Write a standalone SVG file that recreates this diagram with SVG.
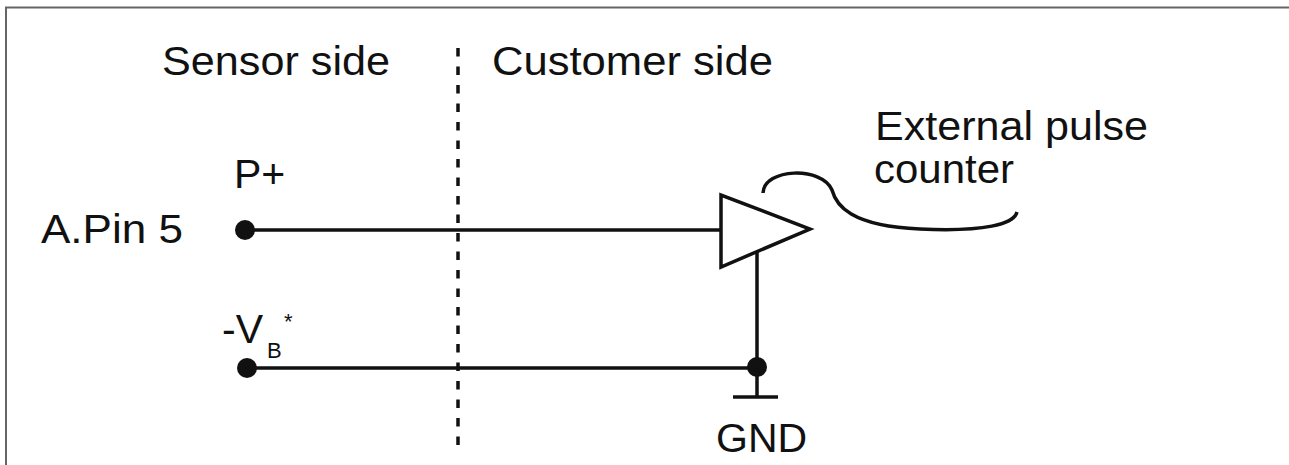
<svg xmlns="http://www.w3.org/2000/svg" width="1289" height="465" viewBox="0 0 1289 465">
<style>
.t{font-family:"Liberation Sans",Arial,sans-serif;font-size:41px;fill:#111}
.w{stroke:#111;stroke-width:3.5;fill:none}
.d{fill:#111}
</style>
<rect x="0" y="0" width="1289" height="465" fill="#fff"/>
<g id="frame">
<path d="M6 465 V7.5 H1289" fill="none" stroke="#666" stroke-width="2"/>
</g>
<g id="divider">
<line x1="458" y1="48" x2="458" y2="448" stroke="#111" stroke-width="3.5" stroke-dasharray="8.5 10"/>
</g>
<g id="labels">
<text class="t" x="162" y="75" textLength="228" lengthAdjust="spacingAndGlyphs">Sensor side</text>
<text class="t" x="492" y="75" textLength="281" lengthAdjust="spacingAndGlyphs">Customer side</text>
<text class="t" x="875" y="140" textLength="273" lengthAdjust="spacingAndGlyphs">External pulse</text>
<text class="t" x="874" y="183" textLength="140" lengthAdjust="spacingAndGlyphs">counter</text>
</g>
<g id="pin-p">
<text class="t" x="234" y="188">P+</text>
<text class="t" x="41" y="243" textLength="142" lengthAdjust="spacingAndGlyphs">A.Pin 5</text>
<circle class="d" cx="245" cy="230" r="10"/>
</g>
<g id="pin-vb">
<text class="t" x="222" y="343">-V</text>
<text class="t" x="267" y="358" style="font-size:22px">B</text>
<text class="t" x="284" y="329" style="font-size:22px">*</text>
<circle class="d" cx="247" cy="368" r="10"/>
</g>
<g id="counter">
<polygon points="721,195 721,267 810,229" fill="#fff" stroke="#111" stroke-width="3.5" stroke-linejoin="miter"/>
<path class="w" d="M763 193 C764 168 822 166 832 190 C836 205 850 226 920 229 C985 232 1014 224 1017 212" stroke-width="3"/>
</g>
<g id="gnd">
<circle class="d" cx="757" cy="367" r="10"/>
<line class="w" x1="733" y1="397" x2="778" y2="397"/>
<text class="t" x="716" y="452">GND</text>
</g>
<g id="connectors">
<line class="w" x1="245" y1="230" x2="721" y2="230"/>
<line class="w" x1="247" y1="368" x2="757" y2="368"/>
<line class="w" x1="757" y1="252" x2="757" y2="397"/>
</g>
</svg>
